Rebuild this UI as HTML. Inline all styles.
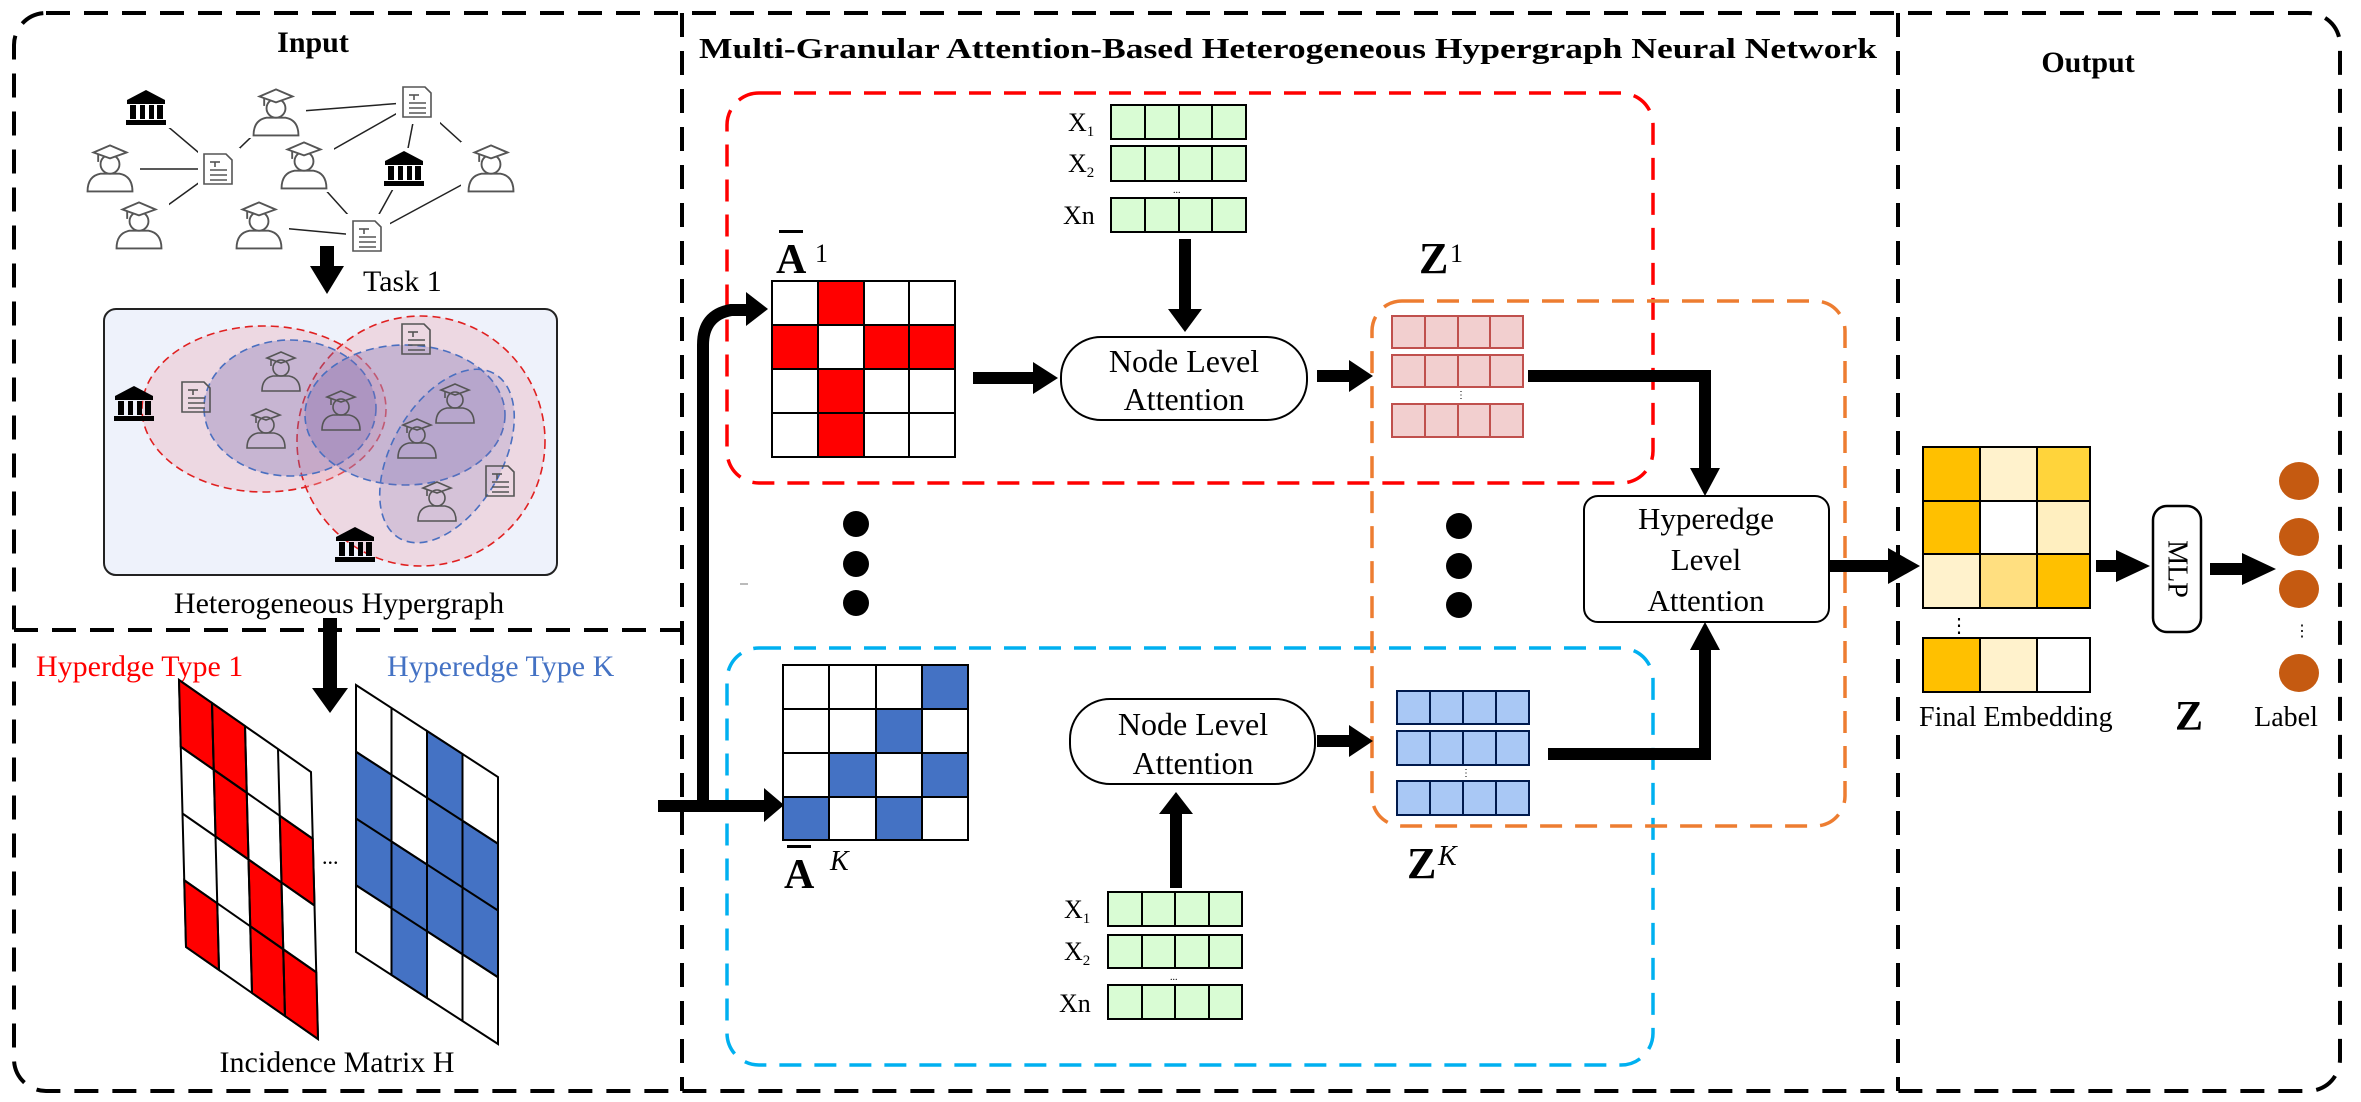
<!DOCTYPE html>
<html><head><meta charset="utf-8"><style>
html,body{margin:0;padding:0;background:#fff;}
svg{display:block;}
text{font-family:"Liberation Serif",serif;}
</style></head><body>
<svg width="2361" height="1102" viewBox="0 0 2361 1102" xmlns="http://www.w3.org/2000/svg">
<defs>
<symbol id="per" viewBox="-22 -22 44 44" overflow="visible">
 <g fill="#fff" stroke="#555" stroke-width="1.6">
 <path d="M-19,19 Q-19,6 -8,4 L8,4 Q19,6 19,19 Z"/>
 <circle cx="0" cy="-4" r="8"/>
 <polygon points="-14,-14 0,-20 14,-14 0,-9"/>
 <line x1="-10" y1="-13" x2="-10" y2="-6"/>
 </g>
</symbol>
<symbol id="perT" viewBox="-22 -22 44 44" overflow="visible">
 <g fill="none" stroke="#555" stroke-width="1.6">
 <path d="M-19,19 Q-19,6 -8,4 L8,4 Q19,6 19,19 Z"/>
 <circle cx="0" cy="-4" r="8"/>
 <polygon points="-14,-14 0,-20 14,-14 0,-9"/>
 <line x1="-10" y1="-13" x2="-10" y2="-6"/>
 </g>
</symbol>
<symbol id="doc" viewBox="-16 -18 32 36" overflow="visible">
 <g fill="#fff" stroke="#555" stroke-width="1.6">
 <path d="M-14,-15 L8,-15 L14,-9 L14,15 L-14,15 Z"/>
 <line x1="-8" y1="-7" x2="2" y2="-7"/><line x1="-3" y1="-7" x2="-3" y2="-2"/>
 <line x1="-8" y1="1" x2="9" y2="1"/><line x1="-8" y1="6" x2="9" y2="6"/><line x1="-8" y1="11" x2="9" y2="11"/>
 </g>
</symbol>
<symbol id="docT" viewBox="-16 -18 32 36" overflow="visible">
 <g fill="none" stroke="#555" stroke-width="1.6">
 <path d="M-14,-15 L8,-15 L14,-9 L14,15 L-14,15 Z"/>
 <line x1="-8" y1="-7" x2="2" y2="-7"/><line x1="-3" y1="-7" x2="-3" y2="-2"/>
 <line x1="-8" y1="1" x2="9" y2="1"/><line x1="-8" y1="6" x2="9" y2="6"/><line x1="-8" y1="11" x2="9" y2="11"/>
 </g>
</symbol>
<symbol id="ins" viewBox="-20 -20 40 40" overflow="visible">
 <g fill="#000">
 <polygon points="-19,-8 0,-18 19,-8"/>
 <rect x="-19" y="-8" width="38" height="4"/>
 <rect x="-16" y="-3" width="6" height="14"/><rect x="-6" y="-3" width="5" height="14"/>
 <rect x="3" y="-3" width="5" height="14"/><rect x="11" y="-3" width="6" height="14"/>
 <rect x="-20" y="12" width="40" height="5"/>
 </g>
</symbol>
</defs>

<rect x="14" y="13" width="2326" height="1078" rx="32" fill="none" stroke="#000" stroke-width="4" stroke-dasharray="24 14"/>
<line x1="682" y1="13" x2="682" y2="1091" stroke="#000" stroke-width="4" stroke-dasharray="24 14"/>
<line x1="1898" y1="13" x2="1898" y2="1091" stroke="#000" stroke-width="4" stroke-dasharray="24 14"/>
<line x1="14" y1="630" x2="682" y2="630" stroke="#000" stroke-width="4" stroke-dasharray="24 14"/>

<text x="313" y="52" font-size="30" font-weight="bold" text-anchor="middle">Input</text>
<text x="699" y="58" font-size="28" font-weight="bold" textLength="1178" lengthAdjust="spacingAndGlyphs">Multi-Granular Attention-Based Heterogeneous Hypergraph Neural Network</text>
<text x="2088" y="72" font-size="30" font-weight="bold" text-anchor="middle">Output</text>

<g stroke="#222" stroke-width="1.5">
<line x1="146" y1="108" x2="218" y2="169"/><line x1="276" y1="113" x2="218" y2="169"/>
<line x1="110" y1="169" x2="218" y2="169"/><line x1="139" y1="226" x2="218" y2="169"/>
<line x1="276" y1="113" x2="417" y2="102"/><line x1="304" y1="166" x2="417" y2="102"/>
<line x1="417" y1="102" x2="404" y2="169"/><line x1="417" y1="102" x2="491" y2="169"/>
<line x1="304" y1="166" x2="367" y2="236"/><line x1="404" y1="169" x2="367" y2="236"/>
<line x1="491" y1="169" x2="367" y2="236"/><line x1="259" y1="226" x2="367" y2="236"/>
</g>
<g fill="#fff">
<rect x="121" y="86" width="50" height="42"/><rect x="246" y="86" width="60" height="52"/>
<rect x="396" y="82" width="44" height="42"/><rect x="80" y="142" width="60" height="52"/>
<rect x="198" y="148" width="42" height="42"/><rect x="274" y="140" width="60" height="52"/>
<rect x="380" y="148" width="48" height="42"/><rect x="461" y="142" width="60" height="52"/>
<rect x="109" y="200" width="60" height="52"/><rect x="229" y="200" width="60" height="52"/>
<rect x="346" y="214" width="44" height="44"/>
</g>
<use href="#ins" x="126" y="88" width="40" height="40"/>
<use href="#per" x="250" y="87" width="52" height="52"/>
<use href="#doc" x="401" y="84" width="32" height="36"/>
<use href="#per" x="84" y="143" width="52" height="52"/>
<use href="#doc" x="202" y="151" width="32" height="36"/>
<use href="#per" x="278" y="140" width="52" height="52"/>
<use href="#ins" x="384" y="149" width="40" height="40"/>
<use href="#per" x="465" y="143" width="52" height="52"/>
<use href="#per" x="113" y="200" width="52" height="52"/>
<use href="#per" x="233" y="200" width="52" height="52"/>
<use href="#doc" x="351" y="218" width="32" height="36"/>

<rect x="320" y="246" width="14" height="22" fill="#000"/>
<polygon points="310,266 344,266 327,294" fill="#000"/>
<text x="363" y="291" font-size="30">Task 1</text>

<rect x="104" y="309" width="453" height="266" rx="12" fill="#eef2fb" stroke="#222" stroke-width="2"/>
<ellipse cx="264" cy="409" rx="122" ry="83" fill="rgba(235,170,180,0.35)" stroke="#e02020" stroke-width="1.6" stroke-dasharray="8 5"/>
<ellipse cx="421" cy="441" rx="124" ry="125" fill="rgba(235,170,180,0.35)" stroke="#e02020" stroke-width="1.6" stroke-dasharray="8 5"/>
<ellipse cx="290" cy="408" rx="86" ry="68" fill="rgba(120,110,180,0.33)" stroke="#4a6fc0" stroke-width="1.6" stroke-dasharray="8 5"/>
<ellipse cx="405" cy="415" rx="100" ry="70" fill="rgba(120,110,180,0.33)" stroke="#4a6fc0" stroke-width="1.6" stroke-dasharray="8 5"/>
<ellipse cx="447" cy="456" rx="55" ry="95" transform="rotate(30 447 456)" fill="rgba(120,110,180,0.2)" stroke="#4a6fc0" stroke-width="1.6" stroke-dasharray="8 5"/>
<use href="#ins" x="114" y="384" width="40" height="40"/>
<use href="#docT" x="180" y="379" width="32" height="36"/>
<use href="#perT" x="259" y="350" width="44" height="44"/>
<use href="#perT" x="244" y="407" width="44" height="44"/>
<use href="#perT" x="319" y="389" width="44" height="44"/>
<use href="#docT" x="400" y="321" width="32" height="36"/>
<use href="#perT" x="433" y="382" width="44" height="44"/>
<use href="#perT" x="395" y="417" width="44" height="44"/>
<use href="#docT" x="484" y="463" width="32" height="36"/>
<use href="#perT" x="415" y="480" width="44" height="44"/>
<use href="#ins" x="335" y="525" width="40" height="40"/>
<text x="339" y="613" font-size="30" text-anchor="middle">Heterogeneous Hypergraph</text>

<text x="36" y="676" font-size="30" fill="#ff0000">Hyperdge Type 1</text>
<text x="387" y="676" font-size="30" fill="#4472c4">Hyperedge Type K</text>
<rect x="323" y="618" width="14" height="72" fill="#000"/>
<polygon points="312,688 348,688 330,713" fill="#000"/>

<g transform="matrix(33,23,1.75,66.75,179,680)" stroke="#000" stroke-width="2">
<rect x="0" y="0" width="4" height="4" fill="#fff" vector-effect="non-scaling-stroke"/>
<rect x="0" y="0" width="1" height="1" fill="#f00" vector-effect="non-scaling-stroke"/>
<rect x="1" y="0" width="1" height="1" fill="#f00" vector-effect="non-scaling-stroke"/>
<rect x="1" y="1" width="1" height="1" fill="#f00" vector-effect="non-scaling-stroke"/>
<rect x="3" y="1" width="1" height="1" fill="#f00" vector-effect="non-scaling-stroke"/>
<rect x="2" y="2" width="1" height="1" fill="#f00" vector-effect="non-scaling-stroke"/>
<rect x="0" y="3" width="1" height="1" fill="#f00" vector-effect="non-scaling-stroke"/>
<rect x="2" y="3" width="1" height="1" fill="#f00" vector-effect="non-scaling-stroke"/>
<rect x="3" y="3" width="1" height="1" fill="#f00" vector-effect="non-scaling-stroke"/>
<line x1="1" y1="0" x2="1" y2="4" vector-effect="non-scaling-stroke"/><line x1="2" y1="0" x2="2" y2="4" vector-effect="non-scaling-stroke"/><line x1="3" y1="0" x2="3" y2="4" vector-effect="non-scaling-stroke"/>
<line x1="0" y1="1" x2="4" y2="1" vector-effect="non-scaling-stroke"/><line x1="0" y1="2" x2="4" y2="2" vector-effect="non-scaling-stroke"/><line x1="0" y1="3" x2="4" y2="3" vector-effect="non-scaling-stroke"/>
</g>
<g transform="matrix(35.5,23,0,66.75,356,685)" stroke="#000" stroke-width="2">
<rect x="0" y="0" width="4" height="4" fill="#fff" vector-effect="non-scaling-stroke"/>
<rect x="0" y="1" width="1" height="2" fill="#4472c4" vector-effect="non-scaling-stroke"/>
<rect x="1" y="2" width="1" height="2" fill="#4472c4" vector-effect="non-scaling-stroke"/>
<rect x="2" y="0" width="1" height="3" fill="#4472c4" vector-effect="non-scaling-stroke"/>
<rect x="3" y="1" width="1" height="2" fill="#4472c4" vector-effect="non-scaling-stroke"/>
<line x1="1" y1="0" x2="1" y2="4" vector-effect="non-scaling-stroke"/><line x1="2" y1="0" x2="2" y2="4" vector-effect="non-scaling-stroke"/><line x1="3" y1="0" x2="3" y2="4" vector-effect="non-scaling-stroke"/>
<line x1="0" y1="1" x2="4" y2="1" vector-effect="non-scaling-stroke"/><line x1="0" y1="2" x2="4" y2="2" vector-effect="non-scaling-stroke"/><line x1="0" y1="3" x2="4" y2="3" vector-effect="non-scaling-stroke"/>
</g>
<text x="322" y="864" font-size="22">...</text>
<text x="337" y="1072" font-size="30" text-anchor="middle">Incidence Matrix H</text>

<rect x="727" y="93" width="926" height="390" rx="32" fill="none" stroke="#ff0000" stroke-width="3.5" stroke-dasharray="22 13"/>
<rect x="727" y="648" width="926" height="417" rx="32" fill="none" stroke="#00b0f0" stroke-width="3.5" stroke-dasharray="22 13"/>
<rect x="1372" y="301" width="473" height="525" rx="30" fill="none" stroke="#ed7d31" stroke-width="3.5" stroke-dasharray="22 13"/>

<g fill="#d9fcd4" stroke="#000" stroke-width="2">
<rect x="1111" y="105" width="135" height="34"/><rect x="1111" y="146" width="135" height="35"/><rect x="1111" y="198" width="135" height="34"/>
<rect x="1108" y="892" width="134" height="34"/><rect x="1108" y="935" width="134" height="33"/><rect x="1108" y="985" width="134" height="34"/>
</g>
<g stroke="#000" stroke-width="2">
<path d="M1145,105v34M1179,105v34M1212,105v34M1145,146v35M1179,146v35M1212,146v35M1145,198v34M1179,198v34M1212,198v34"/>
<path d="M1142,892v34M1175,892v34M1209,892v34M1142,935v33M1175,935v33M1209,935v33M1142,985v34M1175,985v34M1209,985v34"/>
</g>
<g font-size="26">
<text x="1068" y="131">X<tspan font-size="15" dy="5">1</tspan></text>
<text x="1068" y="172">X<tspan font-size="15" dy="5">2</tspan></text>
<text x="1063" y="224">Xn</text>
<text x="1064" y="918">X<tspan font-size="15" dy="5">1</tspan></text>
<text x="1064" y="960">X<tspan font-size="15" dy="5">2</tspan></text>
<text x="1059" y="1012">Xn</text>
<text x="1173" y="193" font-size="10">...</text>
<text x="1170" y="980" font-size="10">...</text>
</g>

<g stroke="#000" stroke-width="2">
<rect x="772" y="281" width="183" height="176" fill="#fff"/>
<rect x="818" y="281" width="46" height="44" fill="#f00"/>
<rect x="772" y="325" width="46" height="44" fill="#f00"/>
<rect x="864" y="325" width="91" height="44" fill="#f00"/>
<rect x="818" y="369" width="46" height="88" fill="#f00"/>
<path d="M818,281v176M864,281v176M909,281v176M772,325h183M772,369h183M772,413h183"/>
</g>
<text x="776" y="273" font-size="42" font-weight="bold">A</text>
<rect x="779" y="230" width="24" height="3" fill="#000"/>
<text x="815" y="262" font-size="26">1</text>

<g stroke="#000" stroke-width="2">
<rect x="783" y="665" width="185" height="175" fill="#fff"/>
<rect x="922" y="665" width="46" height="44" fill="#4472c4"/>
<rect x="876" y="709" width="46" height="44" fill="#4472c4"/>
<rect x="829" y="753" width="47" height="44" fill="#4472c4"/>
<rect x="922" y="753" width="46" height="44" fill="#4472c4"/>
<rect x="783" y="797" width="46" height="43" fill="#4472c4"/>
<rect x="876" y="797" width="46" height="43" fill="#4472c4"/>
<path d="M829,665v175M876,665v175M922,665v175M783,709h185M783,753h185M783,797h185"/>
</g>
<text x="784" y="888" font-size="42" font-weight="bold">A</text>
<rect x="787" y="845" width="24" height="3" fill="#000"/>
<text x="830" y="870" font-size="28" font-style="italic">K</text>

<g fill="#000">
<rect x="1179" y="239" width="12" height="72"/><polygon points="1168,309 1202,309 1185,332"/>
<rect x="973" y="372" width="62" height="12"/><polygon points="1033,362 1033,394 1058,378"/>
<rect x="1317" y="370" width="34" height="12"/><polygon points="1349,360 1349,392 1373,376"/>
<rect x="1317" y="735" width="34" height="12"/><polygon points="1349,725 1349,757 1373,741"/>
<rect x="1170" y="812" width="12" height="76"/><polygon points="1159,814 1193,814 1176,792"/>
<polygon points="1528,370 1711,370 1711,470 1699,470 1699,382 1528,382"/><polygon points="1690,468 1720,468 1705,496"/>
<polygon points="1548,748 1699,748 1699,648 1711,648 1711,760 1548,760"/><polygon points="1690,650 1720,650 1705,622"/>
<rect x="658" y="800" width="110" height="12"/><polygon points="764,788 764,822 784,805"/>
<path d="M697,812 V345 Q697,310 730,304 H748 V316 H732 Q709,320 709,345 V812 Z"/>
<polygon points="746,292 746,326 768,309"/>
<rect x="1829" y="560" width="70" height="12"/><polygon points="1888,548 1888,584 1920,566"/>
<rect x="2096" y="560" width="30" height="12"/><polygon points="2116,550 2116,582 2150,566"/>
<rect x="2210" y="563" width="40" height="12"/><polygon points="2242,553 2242,585 2276,569"/>
</g>

<rect x="1061" y="337" width="246" height="83" rx="40" fill="#fff" stroke="#000" stroke-width="2"/>
<text x="1184" y="372" font-size="32" text-anchor="middle">Node Level</text>
<text x="1184" y="410" font-size="32" text-anchor="middle">Attention</text>
<rect x="1070" y="699" width="245" height="85" rx="40" fill="#fff" stroke="#000" stroke-width="2"/>
<text x="1193" y="735" font-size="32" text-anchor="middle">Node Level</text>
<text x="1193" y="774" font-size="32" text-anchor="middle">Attention</text>

<g fill="#f2cfcf" stroke="#c0504d" stroke-width="2">
<rect x="1392" y="316" width="131" height="32"/><rect x="1392" y="355" width="131" height="32"/><rect x="1392" y="404" width="131" height="33"/>
<path d="M1425,316v32M1458,316v32M1490,316v32M1425,355v32M1458,355v32M1490,355v32M1425,404v33M1458,404v33M1490,404v33" fill="none"/>
</g>
<text x="1456" y="398" font-size="10">⋮</text>
<g fill="#a9c8f5" stroke="#001a4d" stroke-width="2">
<rect x="1397" y="691" width="132" height="33"/><rect x="1397" y="731" width="132" height="34"/><rect x="1397" y="781" width="132" height="34"/>
<path d="M1430,691v33M1463,691v33M1496,691v33M1430,731v34M1463,731v34M1496,731v34M1430,781v34M1463,781v34M1496,781v34" fill="none"/>
</g>
<text x="1461" y="776" font-size="10">⋮</text>
<text x="1419" y="273" font-size="44" font-weight="bold">Z</text><text x="1450" y="262" font-size="26">1</text>
<text x="1407" y="878" font-size="44" font-weight="bold">Z</text><text x="1438" y="865" font-size="28" font-style="italic">K</text>

<g fill="#000">
<circle cx="856" cy="524" r="13"/><circle cx="856" cy="564" r="13"/><circle cx="856" cy="603" r="13"/>
<circle cx="1459" cy="526" r="13"/><circle cx="1459" cy="566" r="13"/><circle cx="1459" cy="605" r="13"/>
</g>
<rect x="740" y="583" width="8" height="2" fill="#bbb"/>

<rect x="1584" y="496" width="245" height="126" rx="14" fill="#fff" stroke="#000" stroke-width="2"/>
<text x="1706" y="529" font-size="31" text-anchor="middle">Hyperedge</text>
<text x="1706" y="570" font-size="31" text-anchor="middle">Level</text>
<text x="1706" y="611" font-size="31" text-anchor="middle">Attention</text>

<g stroke="#000" stroke-width="2">
<rect x="1923" y="447" width="57" height="54" fill="#ffc000"/><rect x="1980" y="447" width="57" height="54" fill="#fff2cc"/><rect x="2037" y="447" width="53" height="54" fill="#ffd43b"/>
<rect x="1923" y="501" width="57" height="53" fill="#ffc000"/><rect x="1980" y="501" width="57" height="53" fill="#fff"/><rect x="2037" y="501" width="53" height="53" fill="#ffefc0"/>
<rect x="1923" y="554" width="57" height="54" fill="#fff2cc"/><rect x="1980" y="554" width="57" height="54" fill="#ffdf80"/><rect x="2037" y="554" width="53" height="54" fill="#ffc000"/>
<rect x="1923" y="638" width="57" height="54" fill="#ffc000"/><rect x="1980" y="638" width="57" height="54" fill="#fff2cc"/><rect x="2037" y="638" width="53" height="54" fill="#fff"/>
</g>
<text x="1949" y="632" font-size="20">⋮</text>
<text x="1919" y="726" font-size="28">Final Embedding</text>
<text x="2175" y="730" font-size="42" font-weight="bold">Z</text>

<rect x="2153" y="506" width="48" height="126" rx="14" fill="#fff" stroke="#000" stroke-width="2.5"/>
<text x="2177" y="569" font-size="28" text-anchor="middle" dominant-baseline="central" transform="rotate(90 2177 569)">MLP</text>

<g fill="#c55a11">
<ellipse cx="2299" cy="481" rx="20" ry="19"/><ellipse cx="2299" cy="537" rx="20" ry="19"/>
<ellipse cx="2299" cy="589" rx="20" ry="19"/><ellipse cx="2299" cy="673" rx="20" ry="19"/>
</g>
<text x="2294" y="636" font-size="16">⋮</text>
<text x="2286" y="726" font-size="28" text-anchor="middle">Label</text>
</svg>
</body></html>
